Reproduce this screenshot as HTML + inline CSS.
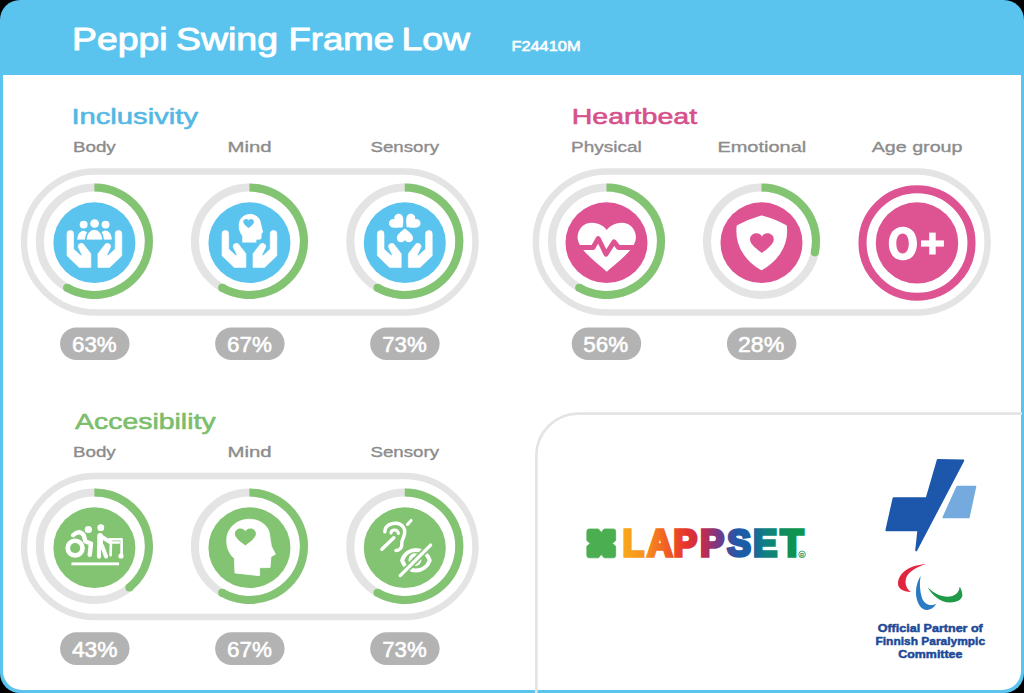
<!DOCTYPE html>
<html><head><meta charset="utf-8"><style>
html,body{margin:0;padding:0;background:#000;width:1024px;height:693px;overflow:hidden}
svg{display:block}
</style></head><body>
<svg width="1024" height="693" viewBox="0 0 1024 693">
<rect x="0" y="0" width="1024" height="693" fill="#000"/><rect x="0" y="0" width="1024" height="693" rx="20" fill="#5BC4EE"/><path d="M3,75 H1021 V671 A19,19 0 0 1 1002,690 H22 A19,19 0 0 1 3,671 Z" fill="#fff"/><rect x="24" y="171.5" width="451.5" height="141" rx="71.5" ry="70.5" fill="none" stroke="#E4E4E4" stroke-width="6.4"/><g transform="translate(94.4,0) scale(1.015,1) translate(-94.4,0)"><circle cx="94.4" cy="241.29999999999998" r="53.7" fill="none" stroke="#E4E4E4" stroke-width="8"/><path d="M94.40,187.60 A53.7,53.7 0 1 1 67.55,287.81" fill="none" stroke="#82C472" stroke-width="8"/><circle cx="67.55" cy="287.81" r="4" fill="#82C472"/><circle cx="94.4" cy="242.7" r="40.4" fill="#5BC4EE"/><g transform="translate(94.4,242.7)"><path d="M-27,-9 A3.25,3.25 0 0 1 -20.5,-9 L-20.5,6.4 L-13.8,12.6 Q-12.6,13.4 -12.4,12 L-16,4.4 A3.2,3.2 0 0 1 -9.9,2.6 L-3.5,11 L-3.5,24.7 L-15,24.7 L-27,13 Z" fill="#fff" stroke="#fff" stroke-width="0.6" stroke-linejoin="round"/><g transform="scale(-1,1)"><path d="M-27,-9 A3.25,3.25 0 0 1 -20.5,-9 L-20.5,6.4 L-13.8,12.6 Q-12.6,13.4 -12.4,12 L-16,4.4 A3.2,3.2 0 0 1 -9.9,2.6 L-3.5,11 L-3.5,24.7 L-15,24.7 L-27,13 Z" fill="#fff" stroke="#fff" stroke-width="0.6" stroke-linejoin="round"/></g><circle cx="0.2" cy="-19.2" r="4.3" fill="#fff"/><circle cx="-10.6" cy="-18.1" r="3.9" fill="#fff"/><circle cx="11" cy="-18.1" r="3.9" fill="#fff"/><path d="M-17,-2.9 A6.3,9.1 0 0 1 -4.4,-2.9 Z" fill="#fff"/><path d="M4.4,-2.9 A6.3,9.1 0 0 1 17.2,-2.9 Z" fill="#fff"/><path d="M-7.7,-2.9 A7.7,10 0 0 1 7.7,-2.9 Z" fill="#fff" stroke="#5BC4EE" stroke-width="3.4"/><path d="M-7.7,-2.9 A7.7,10 0 0 1 7.7,-2.9 Z" fill="#fff"/><rect x="-20" y="-2.9" width="40" height="3" fill="#5BC4EE"/></g></g><g transform="translate(249.45,0) scale(1.015,1) translate(-249.45,0)"><circle cx="249.45" cy="241.29999999999998" r="53.7" fill="none" stroke="#E4E4E4" stroke-width="8"/><path d="M249.45,187.60 A53.7,53.7 0 1 1 222.60,287.81" fill="none" stroke="#82C472" stroke-width="8"/><circle cx="222.60" cy="287.81" r="4" fill="#82C472"/><circle cx="249.45" cy="242.7" r="40.4" fill="#5BC4EE"/><g transform="translate(249.45,242.7)"><path d="M-27,-9 A3.25,3.25 0 0 1 -20.5,-9 L-20.5,6.4 L-13.8,12.6 Q-12.6,13.4 -12.4,12 L-16,4.4 A3.2,3.2 0 0 1 -9.9,2.6 L-3.5,11 L-3.5,24.7 L-15,24.7 L-27,13 Z" fill="#fff" stroke="#fff" stroke-width="0.6" stroke-linejoin="round"/><g transform="scale(-1,1)"><path d="M-27,-9 A3.25,3.25 0 0 1 -20.5,-9 L-20.5,6.4 L-13.8,12.6 Q-12.6,13.4 -12.4,12 L-16,4.4 A3.2,3.2 0 0 1 -9.9,2.6 L-3.5,11 L-3.5,24.7 L-15,24.7 L-27,13 Z" fill="#fff" stroke="#fff" stroke-width="0.6" stroke-linejoin="round"/></g><g transform="translate(0.6,0)"><path d="M-7.7,-0.3 L-7.7,-7.2 Q-11.3,-11 -11.1,-17.5 C-11.1,-24.5 -5.5,-28.6 0,-28.6 C6.5,-28.6 10.5,-24 10.8,-19 L12.8,-10.7 L11.4,-9.3 L11.2,-4.8 Q11,-3.3 9.5,-3.2 L6.2,-3 L6.2,-0.3 Z" fill="#fff"/><path transform="translate(-1.4,-18.8) rotate(0) scale(5.3,4.9)" d="M0,0.85 C-0.35,0.55 -1,0.05 -1,-0.42 C-1,-0.78 -0.74,-1 -0.47,-1 C-0.22,-1 -0.05,-0.85 0,-0.68 C0.05,-0.85 0.22,-1 0.47,-1 C0.74,-1 1,-0.78 1,-0.42 C1,0.05 0.35,0.55 0,0.85 Z" fill="#5BC4EE"/></g></g></g><g transform="translate(404.8,0) scale(1.015,1) translate(-404.8,0)"><circle cx="404.8" cy="241.29999999999998" r="53.7" fill="none" stroke="#E4E4E4" stroke-width="8"/><path d="M404.80,187.60 A53.7,53.7 0 1 1 377.95,287.81" fill="none" stroke="#82C472" stroke-width="8"/><circle cx="377.95" cy="287.81" r="4" fill="#82C472"/><circle cx="404.8" cy="242.7" r="40.4" fill="#5BC4EE"/><g transform="translate(404.8,242.7)"><path d="M-27,-9 A3.25,3.25 0 0 1 -20.5,-9 L-20.5,6.4 L-13.8,12.6 Q-12.6,13.4 -12.4,12 L-16,4.4 A3.2,3.2 0 0 1 -9.9,2.6 L-3.5,11 L-3.5,24.7 L-15,24.7 L-27,13 Z" fill="#fff" stroke="#fff" stroke-width="0.6" stroke-linejoin="round"/><g transform="scale(-1,1)"><path d="M-27,-9 A3.25,3.25 0 0 1 -20.5,-9 L-20.5,6.4 L-13.8,12.6 Q-12.6,13.4 -12.4,12 L-16,4.4 A3.2,3.2 0 0 1 -9.9,2.6 L-3.5,11 L-3.5,24.7 L-15,24.7 L-27,13 Z" fill="#fff" stroke="#fff" stroke-width="0.6" stroke-linejoin="round"/></g><path transform="translate(-6.5,-19.9) rotate(-45) scale(8.0,7.4)" d="M0,0.85 C-0.35,0.55 -1,0.05 -1,-0.42 C-1,-0.78 -0.74,-1 -0.47,-1 C-0.22,-1 -0.05,-0.85 0,-0.68 C0.05,-0.85 0.22,-1 0.47,-1 C0.74,-1 1,-0.78 1,-0.42 C1,0.05 0.35,0.55 0,0.85 Z" fill="#fff"/><path transform="translate(6.4,-19.9) rotate(45) scale(8.0,7.4)" d="M0,0.85 C-0.35,0.55 -1,0.05 -1,-0.42 C-1,-0.78 -0.74,-1 -0.47,-1 C-0.22,-1 -0.05,-0.85 0,-0.68 C0.05,-0.85 0.22,-1 0.47,-1 C0.74,-1 1,-0.78 1,-0.42 C1,0.05 0.35,0.55 0,0.85 Z" fill="#fff"/><path transform="translate(0.1,-7.9) rotate(180) scale(8.0,7.4)" d="M0,0.85 C-0.35,0.55 -1,0.05 -1,-0.42 C-1,-0.78 -0.74,-1 -0.47,-1 C-0.22,-1 -0.05,-0.85 0,-0.68 C0.05,-0.85 0.22,-1 0.47,-1 C0.74,-1 1,-0.78 1,-0.42 C1,0.05 0.35,0.55 0,0.85 Z" fill="#fff"/></g></g><rect x="535.85" y="171.5" width="451.75" height="141" rx="71.5" ry="70.5" fill="none" stroke="#E4E4E4" stroke-width="6.4"/><g transform="translate(606.5,0) scale(1.015,1) translate(-606.5,0)"><circle cx="606.5" cy="241.29999999999998" r="53.7" fill="none" stroke="#E4E4E4" stroke-width="8"/><path d="M606.50,187.60 A53.7,53.7 0 1 1 579.65,287.81" fill="none" stroke="#82C472" stroke-width="8"/><circle cx="579.65" cy="287.81" r="4" fill="#82C472"/><circle cx="606.5" cy="242.7" r="40.4" fill="#DE5493"/><g transform="translate(606.5,242.7)"><path d="M0.3,29 C-8,21 -28.5,7 -28.5,-5.5 C-28.5,-14 -22,-20 -14.5,-20 C-7,-20 -2,-16 0.3,-12.6 C2.6,-16 7.5,-20 15,-20 C22.5,-20 29,-14 29,-5.5 C29,7 8.6,21 0.3,29 Z" fill="#fff"/><polyline points="-31,4.8 -13.2,4.8 -8.1,-4.2 -0.5,11.6 7.4,-1 11.8,4.8 31,4.8" fill="none" stroke="#DE5493" stroke-width="4.8" stroke-linejoin="round"/></g></g><g transform="translate(761.5,0) scale(1.015,1) translate(-761.5,0)"><circle cx="761.5" cy="241.29999999999998" r="53.7" fill="none" stroke="#E4E4E4" stroke-width="8"/><path d="M761.50,187.60 A53.7,53.7 0 0 1 814.03,252.46" fill="none" stroke="#82C472" stroke-width="8"/><circle cx="814.03" cy="252.46" r="4" fill="#82C472"/><circle cx="761.5" cy="242.7" r="40.4" fill="#DE5493"/><g transform="translate(761.5,242.7)"><path d="M0,-26.2 Q-13,-22.5 -23.5,-16.5 L-23.8,-12 C-23.8,5 -14,18.5 0,26.5 C14,18.5 24.3,5 24.3,-12 L24,-16.5 Q13.5,-22.5 0,-26.2 Z" fill="#fff" stroke="#fff" stroke-width="2" stroke-linejoin="round"/><path transform="translate(0.4,1.2) rotate(0) scale(11.7,10.6)" d="M0,0.85 C-0.35,0.55 -1,0.05 -1,-0.42 C-1,-0.78 -0.74,-1 -0.47,-1 C-0.22,-1 -0.05,-0.85 0,-0.68 C0.05,-0.85 0.22,-1 0.47,-1 C0.74,-1 1,-0.78 1,-0.42 C1,0.05 0.35,0.55 0,0.85 Z" fill="#DE5493"/></g></g><g transform="translate(917,0) scale(1.015,1) translate(-917,0)"><circle cx="917" cy="243" r="53.7" fill="none" stroke="#DE5493" stroke-width="8"/><circle cx="917" cy="242.9" r="40.6" fill="#DE5493"/></g><path fill="#fff" fill-rule="evenodd" d="M902.9,226.8 C911.5,226.8 917,233.5 917,243.55 C917,253.6 911.5,260.3 902.9,260.3 C894.3,260.3 888.8,253.6 888.8,243.55 C888.8,233.5 894.3,226.8 902.9,226.8 Z M902.6,233.6 C898.8,233.6 896.3,237.5 896.3,243.55 C896.3,249.6 898.8,253.5 902.6,253.5 C906.4,253.5 908.8,249.6 908.8,243.55 C908.8,237.5 906.4,233.6 902.6,233.6 Z"/><rect x="921" y="240.4" width="22.9" height="6.2" fill="#fff"/><rect x="929.2" y="232.6" width="6.5" height="21.9" fill="#fff"/><rect x="24" y="476.0" width="451.5" height="141" rx="71.5" ry="70.5" fill="none" stroke="#E4E4E4" stroke-width="6.4"/><g transform="translate(94.4,0) scale(1.015,1) translate(-94.4,0)"><circle cx="94.4" cy="546.3000000000001" r="53.7" fill="none" stroke="#E4E4E4" stroke-width="8"/><path d="M94.40,492.60 A53.7,53.7 0 0 1 128.92,587.44" fill="none" stroke="#82C472" stroke-width="8"/><circle cx="128.92" cy="587.44" r="4" fill="#82C472"/><circle cx="94.4" cy="547.7" r="40.4" fill="#82C472"/><g transform="translate(94.4,547.7)"><circle cx="-19" cy="0.4" r="7.3" fill="none" stroke="#fff" stroke-width="4.6"/><circle cx="-6" cy="-18.2" r="3.6" fill="#fff"/><path d="M-21,-12.5 Q-15,-18.5 -10.5,-12.5 L-8.8,-6.2 L-3.4,-4.2 L-4.6,7" fill="none" stroke="#fff" stroke-width="4.4" stroke-linecap="round" stroke-linejoin="round"/><circle cx="6.3" cy="-20" r="3.4" fill="#fff"/><path d="M5.6,-12 L5.6,-1" fill="none" stroke="#fff" stroke-width="5.6" stroke-linecap="round"/><path d="M4.5,0 L4.5,9 M7.5,-2 L11.5,8.8 M7,-11 L15,-6" fill="none" stroke="#fff" stroke-width="4" stroke-linecap="round" stroke-linejoin="round"/><path d="M15,-8.5 L26.8,-8.5 L26.8,7.5 M17.5,-5.2 L24,-5.2 M16.3,-7 L16,7.5" fill="none" stroke="#fff" stroke-width="2.6" stroke-linecap="round" stroke-linejoin="round"/><circle cx="26.2" cy="8.3" r="2.6" fill="#fff"/><rect x="-22.6" y="14.7" width="46.9" height="2.9" fill="#fff"/></g></g><g transform="translate(249.45,0) scale(1.015,1) translate(-249.45,0)"><circle cx="249.45" cy="546.3000000000001" r="53.7" fill="none" stroke="#E4E4E4" stroke-width="8"/><path d="M249.45,492.60 A53.7,53.7 0 1 1 222.60,592.81" fill="none" stroke="#82C472" stroke-width="8"/><circle cx="222.60" cy="592.81" r="4" fill="#82C472"/><circle cx="249.45" cy="547.7" r="40.4" fill="#82C472"/><g transform="translate(249.45,547.7)"><path d="M-14.3,25.3 L-14.8,10.9 C-20,6 -22.4,0 -22.4,-7.3 C-22.4,-20 -12,-28.5 0,-28.5 C11,-28.5 19.5,-21 19.8,-13 L21.6,-1.5 L25.6,6.6 L21.2,8.9 L20.3,19.8 L10,20 L10,28 Z" fill="#fff" stroke="#fff" stroke-width="0.8" stroke-linejoin="round"/><path transform="translate(-4,-10) rotate(0) scale(10.35,9.2)" d="M0,0.85 C-0.35,0.55 -1,0.05 -1,-0.42 C-1,-0.78 -0.74,-1 -0.47,-1 C-0.22,-1 -0.05,-0.85 0,-0.68 C0.05,-0.85 0.22,-1 0.47,-1 C0.74,-1 1,-0.78 1,-0.42 C1,0.05 0.35,0.55 0,0.85 Z" fill="#82C472"/></g></g><g transform="translate(404.8,0) scale(1.015,1) translate(-404.8,0)"><circle cx="404.8" cy="546.3000000000001" r="53.7" fill="none" stroke="#E4E4E4" stroke-width="8"/><path d="M404.80,492.60 A53.7,53.7 0 1 1 377.95,592.81" fill="none" stroke="#82C472" stroke-width="8"/><circle cx="377.95" cy="592.81" r="4" fill="#82C472"/><circle cx="404.8" cy="547.7" r="40.4" fill="#82C472"/><g transform="translate(404.8,547.7)"><path d="M-19.6,-15.8 C-19.8,-22 -13.5,-25 -8,-24.4 C-2,-23.6 0.6,-19 -0.2,-14.4 C-0.8,-10 -3.2,-7.5 -2.9,-4.5 C-2.6,0 -5,2.8 -8.7,2.8" fill="none" stroke="#fff" stroke-width="3.4" stroke-linecap="round"/><path d="M-13.6,-14.6 C-13.4,-18.6 -7,-19 -6.3,-14.2" fill="none" stroke="#fff" stroke-width="3" stroke-linecap="round"/><path d="M-22.6,1.6 L-10.8,-10" fill="none" stroke="#fff" stroke-width="3.4" stroke-linecap="round"/><path d="M2.6,-23.3 L6.2,-27.3" fill="none" stroke="#fff" stroke-width="3" stroke-linecap="round"/><path d="M-2.6,12.6 C2,-1 19.8,-1 24.6,12.6 C19.8,26.2 2,26.2 -2.6,12.6 Z" fill="none" stroke="#fff" stroke-width="4" stroke-linejoin="round"/><circle cx="10" cy="12" r="4.6" fill="none" stroke="#fff" stroke-width="3.6"/><path d="M-4.5,27.9 L25.4,-2.6" fill="none" stroke="#82C472" stroke-width="6.5" stroke-linecap="round"/><path d="M-4.5,27.9 L25.4,-2.6" fill="none" stroke="#fff" stroke-width="3.3" stroke-linecap="round"/></g></g><rect x="60.099999999999994" y="327.45" width="69.4" height="32.6" rx="16.3" fill="#B3B3B3"/><rect x="215.14999999999998" y="327.45" width="69.4" height="32.6" rx="16.3" fill="#B3B3B3"/><rect x="370.2" y="327.45" width="69.4" height="32.6" rx="16.3" fill="#B3B3B3"/><rect x="571.75" y="327.45" width="69.4" height="32.6" rx="16.3" fill="#B3B3B3"/><rect x="726.9499999999999" y="327.45" width="69.4" height="32.6" rx="16.3" fill="#B3B3B3"/><rect x="60.099999999999994" y="632.3000000000001" width="69.4" height="32.6" rx="16.3" fill="#B3B3B3"/><rect x="215.14999999999998" y="632.3000000000001" width="69.4" height="32.6" rx="16.3" fill="#B3B3B3"/><rect x="370.2" y="632.3000000000001" width="69.4" height="32.6" rx="16.3" fill="#B3B3B3"/><path d="M536.3,693 V455.7 A42,42 0 0 1 578.3,413.7 H1022" fill="none" stroke="#E4E4E4" stroke-width="2.7"/><text x="72.00" y="50.3" text-anchor="start" font-family="Liberation Sans" font-weight="normal" font-size="30.6" fill="#fff" stroke="#fff" stroke-width="0.9" stroke-linejoin="round" textLength="95.50" lengthAdjust="spacingAndGlyphs">Peppi</text><text x="176.00" y="50.3" text-anchor="start" font-family="Liberation Sans" font-weight="normal" font-size="30.6" fill="#fff" stroke="#fff" stroke-width="0.9" stroke-linejoin="round" textLength="102.00" lengthAdjust="spacingAndGlyphs">Swing</text><text x="288.50" y="50.3" text-anchor="start" font-family="Liberation Sans" font-weight="normal" font-size="30.6" fill="#fff" stroke="#fff" stroke-width="0.9" stroke-linejoin="round" textLength="105.50" lengthAdjust="spacingAndGlyphs">Frame</text><text x="401.50" y="50.3" text-anchor="start" font-family="Liberation Sans" font-weight="normal" font-size="30.6" fill="#fff" stroke="#fff" stroke-width="0.9" stroke-linejoin="round" textLength="68.50" lengthAdjust="spacingAndGlyphs">Low</text><text x="511.40" y="50.5" text-anchor="start" font-family="Liberation Sans" font-weight="normal" font-size="15.5" fill="#fff" stroke="#fff" stroke-width="0.6" stroke-linejoin="round" textLength="69.20" lengthAdjust="spacingAndGlyphs">F24410M</text><text x="71.40" y="124.2" text-anchor="start" font-family="Liberation Sans" font-weight="normal" font-size="22.8" fill="#55B8E4" stroke="#55B8E4" stroke-width="0.6" stroke-linejoin="round" textLength="126.60" lengthAdjust="spacingAndGlyphs">Inclusivity</text><text x="571.70" y="124.2" text-anchor="start" font-family="Liberation Sans" font-weight="normal" font-size="22.8" fill="#D6508C" stroke="#D6508C" stroke-width="0.6" stroke-linejoin="round" textLength="125.40" lengthAdjust="spacingAndGlyphs">Heartbeat</text><text x="75.00" y="429.2" text-anchor="start" font-family="Liberation Sans" font-weight="normal" font-size="22.8" fill="#7BBE6B" stroke="#7BBE6B" stroke-width="0.6" stroke-linejoin="round" textLength="140.60" lengthAdjust="spacingAndGlyphs">Accesibility</text><text x="72.90" y="152.1" text-anchor="start" font-family="Liberation Sans" font-weight="normal" font-size="15.5" fill="#8C8C8C" stroke="#8C8C8C" stroke-width="0.35" stroke-linejoin="round" textLength="42.90" lengthAdjust="spacingAndGlyphs">Body</text><text x="227.50" y="152.1" text-anchor="start" font-family="Liberation Sans" font-weight="normal" font-size="15.5" fill="#8C8C8C" stroke="#8C8C8C" stroke-width="0.35" stroke-linejoin="round" textLength="44.10" lengthAdjust="spacingAndGlyphs">Mind</text><text x="370.50" y="152.1" text-anchor="start" font-family="Liberation Sans" font-weight="normal" font-size="15.5" fill="#8C8C8C" stroke="#8C8C8C" stroke-width="0.35" stroke-linejoin="round" textLength="68.60" lengthAdjust="spacingAndGlyphs">Sensory</text><text x="571.00" y="152.1" text-anchor="start" font-family="Liberation Sans" font-weight="normal" font-size="15.5" fill="#8C8C8C" stroke="#8C8C8C" stroke-width="0.35" stroke-linejoin="round" textLength="70.80" lengthAdjust="spacingAndGlyphs">Physical</text><text x="717.40" y="152.1" text-anchor="start" font-family="Liberation Sans" font-weight="normal" font-size="15.5" fill="#8C8C8C" stroke="#8C8C8C" stroke-width="0.35" stroke-linejoin="round" textLength="88.90" lengthAdjust="spacingAndGlyphs">Emotional</text><text x="871.70" y="152.1" text-anchor="start" font-family="Liberation Sans" font-weight="normal" font-size="15.5" fill="#8C8C8C" stroke="#8C8C8C" stroke-width="0.35" stroke-linejoin="round" textLength="90.80" lengthAdjust="spacingAndGlyphs">Age group</text><text x="72.90" y="457.1" text-anchor="start" font-family="Liberation Sans" font-weight="normal" font-size="15.5" fill="#8C8C8C" stroke="#8C8C8C" stroke-width="0.35" stroke-linejoin="round" textLength="42.90" lengthAdjust="spacingAndGlyphs">Body</text><text x="227.50" y="457.1" text-anchor="start" font-family="Liberation Sans" font-weight="normal" font-size="15.5" fill="#8C8C8C" stroke="#8C8C8C" stroke-width="0.35" stroke-linejoin="round" textLength="44.10" lengthAdjust="spacingAndGlyphs">Mind</text><text x="370.50" y="457.1" text-anchor="start" font-family="Liberation Sans" font-weight="normal" font-size="15.5" fill="#8C8C8C" stroke="#8C8C8C" stroke-width="0.35" stroke-linejoin="round" textLength="68.60" lengthAdjust="spacingAndGlyphs">Sensory</text><text x="72.00" y="351.6" text-anchor="start" font-family="Liberation Sans" font-weight="normal" font-size="21.6" fill="#fff" stroke="#fff" stroke-width="0.55" stroke-linejoin="round" textLength="44.70" lengthAdjust="spacingAndGlyphs">63%</text><text x="227.00" y="351.6" text-anchor="start" font-family="Liberation Sans" font-weight="normal" font-size="21.6" fill="#fff" stroke="#fff" stroke-width="0.55" stroke-linejoin="round" textLength="44.90" lengthAdjust="spacingAndGlyphs">67%</text><text x="382.20" y="351.6" text-anchor="start" font-family="Liberation Sans" font-weight="normal" font-size="21.6" fill="#fff" stroke="#fff" stroke-width="0.55" stroke-linejoin="round" textLength="44.50" lengthAdjust="spacingAndGlyphs">73%</text><text x="583.20" y="351.6" text-anchor="start" font-family="Liberation Sans" font-weight="normal" font-size="21.6" fill="#fff" stroke="#fff" stroke-width="0.55" stroke-linejoin="round" textLength="44.90" lengthAdjust="spacingAndGlyphs">56%</text><text x="738.00" y="351.6" text-anchor="start" font-family="Liberation Sans" font-weight="normal" font-size="21.6" fill="#fff" stroke="#fff" stroke-width="0.55" stroke-linejoin="round" textLength="46.30" lengthAdjust="spacingAndGlyphs">28%</text><text x="71.90" y="656.6" text-anchor="start" font-family="Liberation Sans" font-weight="normal" font-size="21.6" fill="#fff" stroke="#fff" stroke-width="0.55" stroke-linejoin="round" textLength="45.70" lengthAdjust="spacingAndGlyphs">43%</text><text x="227.00" y="656.6" text-anchor="start" font-family="Liberation Sans" font-weight="normal" font-size="21.6" fill="#fff" stroke="#fff" stroke-width="0.55" stroke-linejoin="round" textLength="44.90" lengthAdjust="spacingAndGlyphs">67%</text><text x="382.20" y="656.6" text-anchor="start" font-family="Liberation Sans" font-weight="normal" font-size="21.6" fill="#fff" stroke="#fff" stroke-width="0.55" stroke-linejoin="round" textLength="44.50" lengthAdjust="spacingAndGlyphs">73%</text><text x="877.70" y="631.5" text-anchor="start" font-family="Liberation Sans" font-weight="bold" font-size="11.4" fill="#1C4A98" stroke="#1C4A98" stroke-width="0.5" stroke-linejoin="round" textLength="105.10" lengthAdjust="spacingAndGlyphs">Official Partner of</text><text x="875.50" y="644.9" text-anchor="start" font-family="Liberation Sans" font-weight="bold" font-size="11.4" fill="#1C4A98" stroke="#1C4A98" stroke-width="0.5" stroke-linejoin="round" textLength="109.60" lengthAdjust="spacingAndGlyphs">Finnish Paralympic</text><text x="898.30" y="658.3" text-anchor="start" font-family="Liberation Sans" font-weight="bold" font-size="11.4" fill="#1C4A98" stroke="#1C4A98" stroke-width="0.5" stroke-linejoin="round" textLength="64.10" lengthAdjust="spacingAndGlyphs">Committee</text><path transform="translate(601.25,543.4)" d="M-12,-14.4 L-2.8,-14.4 L0,-11 L2.8,-14.4 L12,-14.4 Q14.4,-14.4 14.4,-12 L14.4,-2.8 L11,0 L14.4,2.8 L14.4,12 Q14.4,14.4 12,14.4 L2.8,14.4 L0,11 L-2.8,14.4 L-12,14.4 Q-14.4,14.4 -14.4,12 L-14.4,2.8 L-11,0 L-14.4,-2.8 L-14.4,-12 Q-14.4,-14.4 -12,-14.4 Z" fill="#4BAE51" stroke="#4BAE51" stroke-width="0.8" stroke-linejoin="round"/><defs><linearGradient id="lg" x1="623" y1="0" x2="805" y2="0" gradientUnits="userSpaceOnUse"><stop offset="0" stop-color="#F9A81A"/><stop offset="0.12" stop-color="#F7921E"/><stop offset="0.2" stop-color="#F36F21"/><stop offset="0.35" stop-color="#E6342C"/><stop offset="0.44" stop-color="#C22B50"/><stop offset="0.53" stop-color="#713A8B"/><stop offset="0.63" stop-color="#1F5AA9"/><stop offset="0.7" stop-color="#1B5FA3"/><stop offset="0.78" stop-color="#0F7F82"/><stop offset="0.93" stop-color="#10934F"/></linearGradient></defs><g fill="url(#lg)" stroke="url(#lg)" stroke-width="3.4" stroke-linejoin="miter"><text x="622.78" y="555.90" textLength="21.19" lengthAdjust="spacingAndGlyphs" font-family="Liberation Sans" font-weight="bold" font-size="36.92">L</text><text x="647.13" y="555.90" textLength="25.30" lengthAdjust="spacingAndGlyphs" font-family="Liberation Sans" font-weight="bold" font-size="36.92">A</text><text x="673.54" y="555.90" textLength="23.57" lengthAdjust="spacingAndGlyphs" font-family="Liberation Sans" font-weight="bold" font-size="36.92">P</text><text x="700.31" y="555.90" textLength="23.81" lengthAdjust="spacingAndGlyphs" font-family="Liberation Sans" font-weight="bold" font-size="36.92">P</text><text x="727.28" y="555.90" textLength="23.60" lengthAdjust="spacingAndGlyphs" font-family="Liberation Sans" font-weight="bold" font-size="36.92">S</text><text x="753.20" y="555.90" textLength="23.90" lengthAdjust="spacingAndGlyphs" font-family="Liberation Sans" font-weight="bold" font-size="36.92">E</text><text x="780.58" y="555.90" textLength="22.82" lengthAdjust="spacingAndGlyphs" font-family="Liberation Sans" font-weight="bold" font-size="36.92">T</text></g><circle cx="802.1" cy="554.4" r="3.3" fill="#fff" stroke="#10934F" stroke-width="0.8"/><text x="802.1" y="556.5" text-anchor="middle" font-family="Liberation Sans" font-weight="bold" font-size="5.6" fill="#10934F">R</text><path d="M937.8,460 L963.3,460.5 L916.2,550.3 L918.4,530.2 L886.4,530.2 L893.6,498.2 L926.7,498.2 Z" fill="#1D57AC" stroke="#1D57AC" stroke-width="2" stroke-linejoin="round"/><path d="M957.2,486.5 L975.5,486.5 L968.8,517.5 L943.2,517.5 Z" fill="#74AADD" stroke="#74AADD" stroke-width="1.6" stroke-linejoin="round"/><path d="M926.3,563.9 C911,565 898.5,571.5 898,583.5 C897.8,588.5 903,591.5 911,592 C905.3,588 904.8,582 906.3,577.5 C908.5,572 915.5,567 926.3,563.9 Z" fill="#E3243E"/><path d="M920.6,576 C915,585 914.3,597 919.5,605.5 C923.5,611.5 931,612 936.5,603.5 C930,607.5 924,603.5 922,598 C919.7,591 919.3,583 920.6,576 Z" fill="#2B7BC4"/><path d="M927.7,587.2 C932,595 940,602.5 950,602.5 C958,602.5 963.5,598.5 962.2,593.5 C961.8,590.5 960.8,588.5 959.6,586.8 C959.3,592 955.5,596 949.5,596.6 C941.5,597.2 934,593.5 927.7,587.2 Z" fill="#1F9A48"/>
</svg>
</body></html>
